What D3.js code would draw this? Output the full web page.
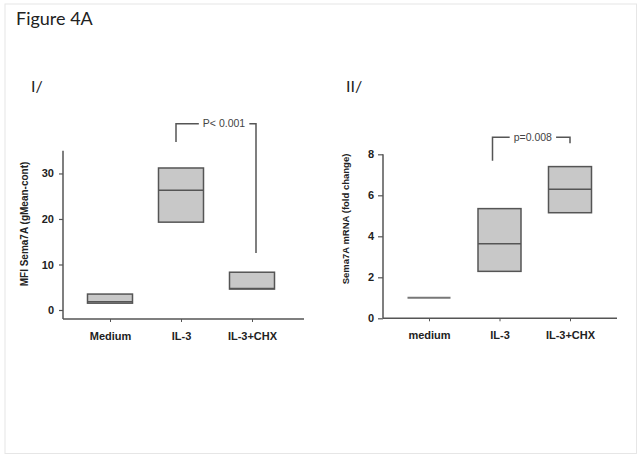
<!DOCTYPE html>
<html>
<head>
<meta charset="utf-8">
<script src="https://cdn.jsdelivr.net/npm/d3@7"></script>
<style>
    body { margin: 0; background: #fff; }
    svg { display: block; }
    .tick text { font-family: "Liberation Sans", Arial, sans-serif; font-weight: bold; fill: #222; }
</style>
</head>
<body>
<div id="chart"></div>
<script>
// Figure 4A — two floating-box panels (min / median / max per condition)

// Panel I: MFI Sema7A
const catsI = ["Medium", "IL-3", "IL-3+CHX"];
const lowI = [1.5, 19.3, 4.6];
const medianI = [1.8, 26.3, 4.7];
const highI = [3.5, 31.2, 8.3];
const ticksI = [0, 10, 20, 30];

// Panel II: Sema7A mRNA
const catsII = ["medium", "IL-3", "IL-3+CHX"];
const lowII = [1.0, 2.29, 5.15];
const medianII = [1.0, 3.64, 6.3];
const highII = [1.0, 5.35, 7.4];
const ticksII = [0, 2, 4, 6, 8];

const W = 641, H = 459;
const INK = "#555";

const svg = d3.select("#chart").append("svg")
    .attr("width", W).attr("height", H);

svg.append("rect")
    .attr("x", 5).attr("y", 4)
    .attr("width", 631.5).attr("height", 449.5)
    .attr("fill", "none").attr("stroke", "#e6e6e6");

svg.append("text")
    .attr("x", 16).attr("y", 24.5)
    .attr("font-family", "Lato, 'Open Sans', sans-serif")
    .attr("font-size", 18).attr("fill", "#222")
    .text("Figure 4A");

function drawPanel(p) {
    const g = svg.append("g");

    const x = d3.scalePoint().domain(p.cats).range(p.xPoints);
    const y = d3.scaleLinear().domain(p.yDomain).range(p.yRange);

    // roman numeral label
    g.append("text")
        .attr("x", p.romanX).attr("y", 91.5)
        .attr("font-family", "Lato, 'Open Sans', sans-serif")
        .attr("font-size", 16).attr("fill", "#222")
        .text(p.roman);

    // y axis
    const yAxis = g.append("g")
        .attr("transform", `translate(${p.axisX},0)`)
        .call(d3.axisLeft(y).tickValues(p.ticks).tickSize(p.yTick).tickPadding(p.yPad));
    yAxis.select(".domain").remove();
    yAxis.selectAll(".tick line").attr("stroke", INK).attr("stroke-width", 1.2);
    yAxis.selectAll(".tick text").attr("font-size", 11);
    g.append("line")
        .attr("x1", p.axisX).attr("x2", p.axisX)
        .attr("y1", y(p.yDomain[1])).attr("y2", p.baseY)
        .attr("stroke", INK).attr("stroke-width", 1.5);

    // x axis
    const xAxis = g.append("g")
        .attr("transform", `translate(0,${p.baseY})`)
        .call(d3.axisBottom(x).tickSize(3).tickPadding(10));
    xAxis.select(".domain").remove();
    xAxis.selectAll(".tick line").attr("stroke", INK);
    xAxis.selectAll(".tick text").attr("font-size", 11);
    g.append("line")
        .attr("x1", p.axisX).attr("x2", p.axisEnd)
        .attr("y1", p.baseY).attr("y2", p.baseY)
        .attr("stroke", INK).attr("stroke-width", 1.5);

    // y label
    g.append("text")
        .attr("transform", `translate(${p.labelX},${p.labelY}) rotate(-90)`)
        .attr("text-anchor", "middle")
        .attr("font-family", "'Liberation Sans', Arial, sans-serif")
        .attr("font-weight", "bold")
        .attr("font-size", p.labelSize).attr("fill", "#222")
        .text(p.yLabel);

    // boxes
    const rows = p.cats.map((c, i) => ({ c, lo: p.low[i], md: p.median[i], hi: p.high[i] }));
    const bw = p.boxW;
    rows.forEach((d) => {
        const cx = x(d.c);
        if (d.hi === d.lo) {
            g.append("line")
                .attr("x1", cx - bw / 2).attr("x2", cx + bw / 2)
                .attr("y1", y(d.md)).attr("y2", y(d.md))
                .attr("stroke", "#777").attr("stroke-width", 2);
            return;
        }
        g.append("rect")
            .attr("x", cx - bw / 2).attr("y", y(d.hi))
            .attr("width", bw).attr("height", y(d.lo) - y(d.hi))
            .attr("fill", "#c8c8c8").attr("stroke", INK).attr("stroke-width", 1.5);
        g.append("line")
            .attr("x1", cx - bw / 2).attr("x2", cx + bw / 2)
            .attr("y1", y(d.md)).attr("y2", y(d.md))
            .attr("stroke", INK).attr("stroke-width", 1.5);
    });

    // significance bracket
    const b = p.bracket;
    const xl = x(b.from) + b.dxFrom;
    const xr = x(b.to) + b.dxTo;
    const yt = y(b.top);
    const txt = g.append("text")
        .attr("x", xl + (xr - xl) * b.at).attr("y", yt + 3.5)
        .attr("text-anchor", "middle")
        .attr("font-family", "'Liberation Sans', Arial, sans-serif")
        .attr("font-size", 10.5).attr("fill", "#444")
        .text(b.label);
    const bb = txt.node().getBBox();
    g.append("path")
        .attr("d", `M${xl},${y(b.leftEnd)}V${yt}H${bb.x - 4}M${bb.x + bb.width + 4},${yt}H${xr}V${y(b.rightEnd)}`)
        .attr("fill", "none").attr("stroke", INK).attr("stroke-width", 1.5);
}

drawPanel({
    cats: catsI, low: lowI, median: medianI, high: highI, ticks: ticksI,
    roman: "I/", romanX: 31,
    xPoints: [110, 252], yDomain: [0, 35], yRange: [310, 150.7],
    axisX: 63, axisEnd: 304, baseY: 319, yTick: 4, yPad: 5,
    boxW: 45,
    yLabel: "MFI Sema7A (gMean-cont)", labelX: 28, labelY: 224, labelSize: 10,
    bracket: { from: "IL-3", to: "IL-3+CHX", dxFrom: -5, dxTo: 4, top: 40.9, leftEnd: 36.9, rightEnd: 12.5, at: 0.6, label: "P< 0.001" },
});

drawPanel({
    cats: catsII, low: lowII, median: medianII, high: highII, ticks: ticksII,
    roman: "II/", romanX: 346,
    xPoints: [429, 570], yDomain: [0, 8], yRange: [318.3, 154.3],
    axisX: 383, axisEnd: 617, baseY: 318.3, yTick: 5, yPad: 4,
    boxW: 43,
    yLabel: "Sema7A mRNA (fold change)", labelX: 348.5, labelY: 219, labelSize: 9.5,
    bracket: { from: "IL-3", to: "IL-3+CHX", dxFrom: -7, dxTo: 0, top: 8.83, leftEnd: 7.69, rightEnd: 8.54, at: 0.52, label: "p=0.008" },
});
</script>
</body>
</html>
